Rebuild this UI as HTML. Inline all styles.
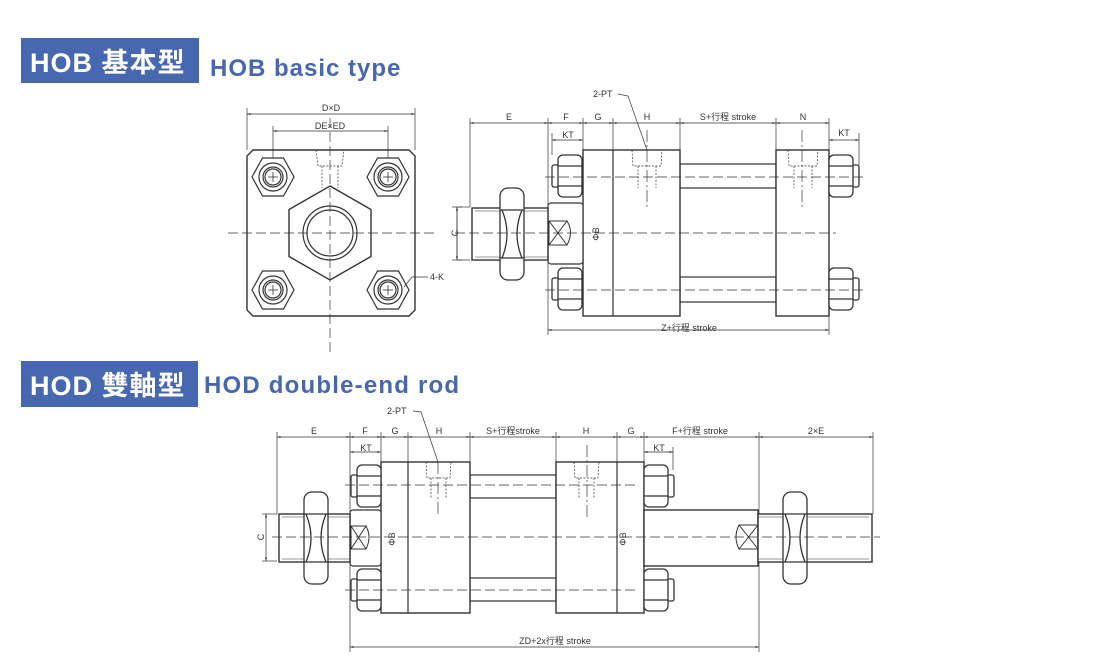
<!DOCTYPE html>
<html><head><meta charset="utf-8"><style>
html,body{margin:0;padding:0;background:#fff;}
svg{display:block}
.t{font-family:"Liberation Sans",Arial,sans-serif;font-size:9px;fill:#333;}
</style></head><body>
<svg width="1118" height="665" viewBox="0 0 1118 665" xmlns="http://www.w3.org/2000/svg">
<defs>
<marker id="a" viewBox="0 0 10 10" refX="10" refY="5" markerWidth="7" markerHeight="5" orient="auto-start-reverse"><path d="M0,2 L10,5 L0,8 z" fill="#333"/></marker>
<g id="nutL" fill="#fff" stroke="#333" stroke-width="1.3">
 <rect x="-6" y="-11" width="8" height="22" rx="2"/>
 <rect x="0" y="-21" width="24" height="42" rx="5"/>
 <line x1="0" y1="-10" x2="24" y2="-10"/><line x1="0" y1="10" x2="24" y2="10"/>
</g>
<g id="nutR" fill="#fff" stroke="#333" stroke-width="1.3">
 <rect x="22" y="-11" width="8" height="22" rx="2"/>
 <rect x="0" y="-21" width="24" height="42" rx="5"/>
 <line x1="0" y1="-10" x2="24" y2="-10"/><line x1="0" y1="10" x2="24" y2="10"/>
</g>
<g id="bolt" fill="none" stroke="#333" stroke-width="1.2">
 <polygon points="-21,0 -10.5,-19 10.5,-19 21,0 10.5,19 -10.5,19" fill="#fff"/>
 <circle r="14"/><circle r="10"/><circle r="8"/>
 <line x1="-5" y1="0" x2="5" y2="0" stroke-width=".8"/><line x1="0" y1="-5" x2="0" y2="5" stroke-width=".8"/>
</g>
<g id="rodnut" fill="#fff" stroke="#333" stroke-width="1.3">
 <rect x="0" y="-46" width="24" height="92" rx="8"/>
 <line x1="0" y1="-24" x2="24" y2="-24"/><line x1="0" y1="24" x2="24" y2="24"/>
 <path d="M2,-24 Q12,0 2,24 M22,-24 Q12,0 22,24" fill="none"/>
</g>
</defs>

<!-- Headers -->
<rect x="21" y="38" width="178" height="45" fill="#4767b1"/>
<text x="30" y="72" font-family="Liberation Sans,'Noto Sans CJK SC',sans-serif" font-weight="bold" font-size="27" letter-spacing="1" fill="#fff">HOB 基本型</text>
<text x="210" y="76" font-family="Liberation Sans,sans-serif" font-weight="bold" font-size="24" letter-spacing="1" fill="#4767b1">HOB basic type</text>
<rect x="21" y="361" width="177" height="46" fill="#4767b1"/>
<text x="30" y="395" font-family="Liberation Sans,'Noto Sans CJK TC',sans-serif" font-weight="bold" font-size="27" letter-spacing="1" fill="#fff">HOD 雙軸型</text>
<text x="204" y="393" font-family="Liberation Sans,sans-serif" font-weight="bold" font-size="24" letter-spacing="1.2" fill="#4767b1">HOD double-end rod</text>

<g stroke="#333" stroke-width="1.2" fill="none">
<!-- ===== Front view ===== -->
<path d="M253,150 L409,150 L415,156 L415,310 L409,316 L253,316 L247,310 L247,156 Z" stroke-width="1.4"/>
<g stroke-width=".7">
<line x1="247" y1="108" x2="247" y2="150"/><line x1="415" y1="108" x2="415" y2="150"/>
<line x1="247" y1="114" x2="415" y2="114" marker-start="url(#a)" marker-end="url(#a)"/>
<line x1="273" y1="126" x2="273" y2="177"/><line x1="388" y1="126" x2="388" y2="177"/>
<line x1="273" y1="131" x2="388" y2="131" marker-start="url(#a)" marker-end="url(#a)"/>
</g>
<use href="#bolt" x="273" y="177"/><use href="#bolt" x="388" y="177"/>
<use href="#bolt" x="273" y="290"/><use href="#bolt" x="388" y="290"/>
<g stroke-dasharray="2,1.5" stroke-width=".7"><path d="M316,150 L318,166 L342,166 L344,150 M322,166 L322,188 M338,166 L338,188"/></g>
<polygon points="330,186 371,209.5 371,256.5 330,280 289,256.5 289,209.5" fill="#fff" stroke-width="1.4"/>
<circle cx="330" cy="233" r="27"/><circle cx="330" cy="233" r="23"/>
<g stroke-dasharray="10,4" stroke-width=".7"><line x1="228" y1="233" x2="435" y2="233"/><line x1="330" y1="118" x2="330" y2="352"/></g>
<g stroke-width=".7"><line x1="452" y1="207" x2="462" y2="207"/><line x1="452" y1="260" x2="462" y2="260"/>
<line x1="457" y1="207" x2="457" y2="260" marker-start="url(#a)" marker-end="url(#a)"/>
<path d="M404,287 L412,277 L428,277"/></g>

<!-- ===== Side view top ===== -->
<g stroke-width=".7">
<line x1="470" y1="118" x2="470" y2="207"/><line x1="548" y1="118" x2="548" y2="335"/>
<line x1="583" y1="118" x2="583" y2="150"/><line x1="613" y1="118" x2="613" y2="150"/>
<line x1="680" y1="118" x2="680" y2="150"/><line x1="776" y1="118" x2="776" y2="150"/>
<line x1="829" y1="118" x2="829" y2="335"/><line x1="859" y1="133" x2="859" y2="165"/>
<line x1="552" y1="133" x2="552" y2="155"/>
<line x1="470" y1="123" x2="548" y2="123" marker-start="url(#a)" marker-end="url(#a)"/>
<line x1="548" y1="123" x2="583" y2="123" marker-start="url(#a)" marker-end="url(#a)"/>
<line x1="583" y1="123" x2="613" y2="123" marker-start="url(#a)" marker-end="url(#a)"/>
<line x1="613" y1="123" x2="680" y2="123" marker-start="url(#a)" marker-end="url(#a)"/>
<line x1="680" y1="123" x2="776" y2="123" marker-start="url(#a)" marker-end="url(#a)"/>
<line x1="776" y1="123" x2="829" y2="123" marker-start="url(#a)" marker-end="url(#a)"/>
<line x1="552" y1="140" x2="583" y2="140" marker-start="url(#a)" marker-end="url(#a)"/>
<line x1="829" y1="140" x2="859" y2="140" marker-start="url(#a)" marker-end="url(#a)"/>
<line x1="548" y1="330" x2="829" y2="330" marker-start="url(#a)" marker-end="url(#a)"/>
<line x1="601" y1="203" x2="601" y2="264" marker-start="url(#a)" marker-end="url(#a)"/>
<line x1="585" y1="203" x2="605" y2="203"/><line x1="585" y1="264" x2="605" y2="264"/>
<line x1="458" y1="207" x2="470" y2="207"/><line x1="458" y1="260" x2="470" y2="260"/>
<line x1="457" y1="207" x2="457" y2="260"/>
<path d="M618,94 L628,96 L647,150"/>
</g>
<rect x="680" y="164" width="96" height="24" fill="#fff"/><rect x="680" y="277" width="96" height="25" fill="#fff"/>
<rect x="583" y="150" width="97" height="166" fill="#fff" stroke-width="1.4"/><line x1="613" y1="150" x2="613" y2="316"/>
<rect x="776" y="150" width="53" height="166" fill="#fff" stroke-width="1.4"/>
<g stroke-dasharray="2,1.5" stroke-width=".7"><path d="M632,150 L633,166 L661,166 L662,150 M638,166 L638,188 M656,166 L656,188 M788,150 L789,166 L817,166 L818,150 M794,166 L794,188 M812,166 L812,188"/></g>
<g stroke-dasharray="12,3,2,3" stroke-width=".7"><line x1="647" y1="130" x2="647" y2="210"/><line x1="802" y1="130" x2="802" y2="210"/></g>
<rect x="548" y="203" width="35" height="61" rx="3" fill="#fff"/>
<path d="M549,221 L567,221 Q574,232 567,245 L549,245 Z M549,221 L567,245 M567,221 L549,245" stroke-width="1"/>
<rect x="472" y="208" width="76" height="52" fill="#fff" stroke-width="1.4"/><line x1="475" y1="211" x2="548" y2="211" stroke-width=".6"/><line x1="475" y1="257" x2="548" y2="257" stroke-width=".6"/>
<use href="#rodnut" x="500" y="234"/>
<use href="#nutL" x="558" y="176"/><use href="#nutL" x="558" y="289"/>
<use href="#nutR" x="829" y="176"/><use href="#nutR" x="829" y="289"/>
<g stroke-dasharray="10,4" stroke-width=".7"><line x1="455" y1="233" x2="836" y2="233"/><line x1="545" y1="177" x2="866" y2="177"/><line x1="545" y1="290" x2="866" y2="290"/></g>

<!-- ===== Bottom view ===== -->
<g stroke-width=".7">
<line x1="277" y1="432" x2="277" y2="514"/><line x1="350" y1="432" x2="350" y2="652"/>
<line x1="381" y1="432" x2="381" y2="462"/><line x1="408" y1="432" x2="408" y2="462"/>
<line x1="470" y1="432" x2="470" y2="462"/><line x1="556" y1="432" x2="556" y2="462"/>
<line x1="617" y1="432" x2="617" y2="462"/><line x1="644" y1="432" x2="644" y2="462"/>
<line x1="759" y1="432" x2="759" y2="652"/><line x1="873" y1="432" x2="873" y2="514"/>
<line x1="673" y1="447" x2="673" y2="470"/>
<line x1="277" y1="437" x2="350" y2="437" marker-start="url(#a)" marker-end="url(#a)"/>
<line x1="350" y1="437" x2="381" y2="437" marker-start="url(#a)" marker-end="url(#a)"/>
<line x1="381" y1="437" x2="408" y2="437" marker-start="url(#a)" marker-end="url(#a)"/>
<line x1="408" y1="437" x2="470" y2="437" marker-start="url(#a)" marker-end="url(#a)"/>
<line x1="470" y1="437" x2="556" y2="437" marker-start="url(#a)" marker-end="url(#a)"/>
<line x1="556" y1="437" x2="617" y2="437" marker-start="url(#a)" marker-end="url(#a)"/>
<line x1="617" y1="437" x2="644" y2="437" marker-start="url(#a)" marker-end="url(#a)"/>
<line x1="644" y1="437" x2="759" y2="437" marker-start="url(#a)" marker-end="url(#a)"/>
<line x1="759" y1="437" x2="873" y2="437" marker-start="url(#a)" marker-end="url(#a)"/>
<line x1="350" y1="452" x2="381" y2="452" marker-start="url(#a)" marker-end="url(#a)"/>
<line x1="644" y1="452" x2="673" y2="452" marker-start="url(#a)" marker-end="url(#a)"/>
<line x1="350" y1="647" x2="759" y2="647" marker-start="url(#a)" marker-end="url(#a)"/>
<line x1="397" y1="512" x2="397" y2="566" marker-start="url(#a)" marker-end="url(#a)"/>
<line x1="628" y1="512" x2="628" y2="566" marker-start="url(#a)" marker-end="url(#a)"/>
<line x1="382" y1="512" x2="402" y2="512"/><line x1="382" y1="566" x2="402" y2="566"/>
<line x1="622" y1="512" x2="644" y2="512"/><line x1="622" y1="566" x2="644" y2="566"/>
<line x1="262" y1="514" x2="277" y2="514"/><line x1="262" y1="561" x2="277" y2="561"/>
<line x1="266" y1="514" x2="266" y2="561" marker-start="url(#a)" marker-end="url(#a)"/>
<path d="M413,411 L421,412 L438,462"/>
</g>
<rect x="470" y="475" width="86" height="23" fill="#fff"/><rect x="470" y="578" width="86" height="23" fill="#fff"/>
<rect x="381" y="462" width="89" height="151" fill="#fff" stroke-width="1.4"/><line x1="408" y1="462" x2="408" y2="613"/>
<rect x="556" y="462" width="88" height="151" fill="#fff" stroke-width="1.4"/><line x1="617" y1="462" x2="617" y2="613"/>
<g stroke-dasharray="2,1.5" stroke-width=".7"><path d="M426,462 L427,478 L450,478 L451,462 M431,478 L431,498 M446,478 L446,498 M574,462 L575,478 L598,478 L599,462 M579,478 L579,498 M594,478 L594,498"/></g>
<g stroke-dasharray="12,3,2,3" stroke-width=".7"><line x1="438" y1="462" x2="438" y2="517"/><line x1="587" y1="445" x2="587" y2="517"/></g>
<rect x="350" y="510" width="31" height="56" rx="3" fill="#fff"/>
<path d="M351,526 L366,526 Q372,537 366,549 L351,549 Z M351,526 L366,549 M366,526 L351,549" stroke-width="1"/>
<rect x="279" y="514" width="71" height="48" fill="#fff" stroke-width="1.4"/><line x1="282" y1="517" x2="350" y2="517" stroke-width=".6"/><line x1="282" y1="559" x2="350" y2="559" stroke-width=".6"/>
<use href="#rodnut" x="304" y="538"/>
<rect x="644" y="510" width="114" height="56" fill="#fff" stroke-width="1.4"/>
<path d="M758,525 L739,525 Q733,537 739,549 L758,549 M739,525 L758,549 M758,525 L739,549" stroke-width="1"/>
<rect x="758" y="514" width="114" height="48" fill="#fff" stroke-width="1.4"/><line x1="758" y1="517" x2="869" y2="517" stroke-width=".6"/><line x1="758" y1="559" x2="869" y2="559" stroke-width=".6"/>
<use href="#rodnut" x="783" y="538"/>
<use href="#nutL" x="357" y="486"/><use href="#nutL" x="357" y="590"/>
<use href="#nutR" x="644" y="486"/><use href="#nutR" x="644" y="590"/>
<g stroke-dasharray="10,4" stroke-width=".7"><line x1="272" y1="537" x2="880" y2="537"/><line x1="345" y1="485" x2="636" y2="485"/><line x1="345" y1="590" x2="636" y2="590"/></g>
</g>

<g class="t">
<text x="331" y="111" text-anchor="middle">D×D</text>
<text x="330" y="129" text-anchor="middle">DE×ED</text>
<text x="430" y="280">4-K</text>
<text x="455" y="236" transform="rotate(-90 455 233)" text-anchor="middle">C</text>
<text x="509" y="120" text-anchor="middle">E</text>
<text x="566" y="120" text-anchor="middle">F</text>
<text x="598" y="120" text-anchor="middle">G</text>
<text x="647" y="120" text-anchor="middle">H</text>
<text x="728" y="120" text-anchor="middle" font-family="Liberation Sans,'Noto Sans CJK TC',sans-serif">S+行程 stroke</text>
<text x="803" y="120" text-anchor="middle">N</text>
<text x="568" y="138" text-anchor="middle">KT</text>
<text x="844" y="136" text-anchor="middle">KT</text>
<text x="593" y="97">2-PT</text>
<text x="599" y="234" transform="rotate(-90 599 234)" text-anchor="middle">ΦB</text>
<text x="689" y="331" text-anchor="middle" font-family="Liberation Sans,'Noto Sans CJK TC',sans-serif">Z+行程 stroke</text>

<text x="387" y="414">2-PT</text>
<text x="314" y="434" text-anchor="middle">E</text>
<text x="365" y="434" text-anchor="middle">F</text>
<text x="395" y="434" text-anchor="middle">G</text>
<text x="439" y="434" text-anchor="middle">H</text>
<text x="513" y="434" text-anchor="middle" font-family="Liberation Sans,'Noto Sans CJK TC',sans-serif">S+行程stroke</text>
<text x="586" y="434" text-anchor="middle">H</text>
<text x="631" y="434" text-anchor="middle">G</text>
<text x="700" y="434" text-anchor="middle" font-family="Liberation Sans,'Noto Sans CJK TC',sans-serif">F+行程 stroke</text>
<text x="816" y="434" text-anchor="middle">2×E</text>
<text x="366" y="451" text-anchor="middle">KT</text>
<text x="659" y="451" text-anchor="middle">KT</text>
<text x="264" y="537" transform="rotate(-90 264 537)" text-anchor="middle">C</text>
<text x="395" y="539" transform="rotate(-90 395 539)" text-anchor="middle">ΦB</text>
<text x="626" y="539" transform="rotate(-90 626 539)" text-anchor="middle">ΦB</text>
<text x="555" y="644" text-anchor="middle" font-family="Liberation Sans,'Noto Sans CJK TC',sans-serif">ZD+2x行程 stroke</text>
</g>
</svg>
</body></html>
